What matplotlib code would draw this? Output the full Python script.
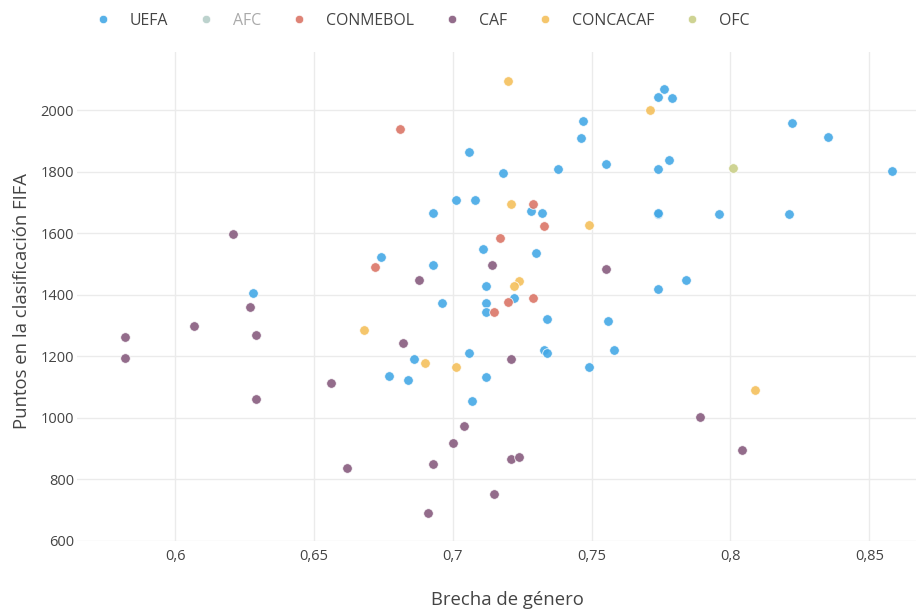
import matplotlib.pyplot as plt
from matplotlib.lines import Line2D
from matplotlib.ticker import FuncFormatter

plt.rcParams['font.family'] = ['Open Sans', 'DejaVu Sans']

# Data (brecha de género, puntos FIFA)
uefa_x = [0.674, 0.628, 0.747, 0.746, 0.706, 0.755, 0.738, 0.718, 0.701, 0.708,
          0.693, 0.728, 0.732, 0.711, 0.730, 0.693, 0.712, 0.696, 0.712, 0.722,
          0.712, 0.734, 0.756, 0.758, 0.733, 0.734, 0.706, 0.686, 0.749, 0.677,
          0.684, 0.712, 0.707, 0.776, 0.774, 0.779, 0.822, 0.835, 0.778, 0.774,
          0.858, 0.774, 0.774, 0.796, 0.821, 0.784, 0.774]
uefa_y = [1525, 1407, 1965, 1910, 1865, 1825, 1809, 1795, 1710, 1710,
          1667, 1673, 1666, 1549, 1538, 1496, 1430, 1374, 1373, 1389,
          1346, 1323, 1314, 1222, 1220, 1210, 1212, 1191, 1166, 1136,
          1123, 1134, 1054, 2069, 2045, 2040, 1959, 1912, 1838, 1809,
          1802, 1662, 1665, 1663, 1662, 1449, 1418]

afc_x = []
afc_y = []

conmebol_x = [0.681, 0.729, 0.733, 0.717, 0.672, 0.720, 0.729, 0.715]
conmebol_y = [1940, 1697, 1623, 1586, 1491, 1377, 1390, 1345]

caf_x = [0.621, 0.627, 0.714, 0.755, 0.688, 0.682, 0.721, 0.704, 0.700, 0.693,
         0.721, 0.724, 0.715, 0.691, 0.607, 0.582, 0.629, 0.582, 0.656, 0.629,
         0.662, 0.789, 0.804]
caf_y = [1597, 1362, 1496, 1484, 1450, 1243, 1191, 975, 920, 849,
         866, 872, 754, 692, 1298, 1264, 1269, 1194, 1115, 1061,
         836, 1004, 895]

concacaf_x = [0.720, 0.721, 0.749, 0.724, 0.722, 0.668, 0.690, 0.701, 0.771, 0.809]
concacaf_y = [2097, 1697, 1628, 1447, 1429, 1286, 1178, 1167, 2002, 1090]

ofc_x = [0.801]
ofc_y = [1812]

names = ['UEFA', 'AFC', 'CONMEBOL', 'CAF', 'CONCACAF', 'OFC']
colors = ['#45A9E6', '#B5CEC8', '#DB7667', '#875C7F', '#F4C05C', '#C9CF87']
series = [(uefa_x, uefa_y), (afc_x, afc_y), (conmebol_x, conmebol_y),
          (caf_x, caf_y), (concacaf_x, concacaf_y), (ofc_x, ofc_y)]
hidden = ['AFC']

fig = plt.figure(figsize=(9.16, 6.09), dpi=100)
ax = fig.add_axes([77 / 916, 68 / 609, 839 / 916, 489 / 609])

for name, col, (xs, ys) in zip(names, colors, series):
    if name in hidden:
        continue
    ax.scatter(xs, ys, s=48, color=col, alpha=0.9, edgecolors='white',
               linewidths=0.6, zorder=3)

ax.set_xlim(0.5647, 0.8668)
ax.set_ylim(600, 2190)
ax.set_xticks([0.6, 0.65, 0.7, 0.75, 0.8, 0.85])
ax.set_yticks([600, 800, 1000, 1200, 1400, 1600, 1800, 2000])
ax.xaxis.set_major_formatter(FuncFormatter(lambda v, p: ('%g' % v).replace('.', ',')))
ax.grid(True, color='#ebebeb', linewidth=1)
ax.set_axisbelow(True)
for s in ax.spines.values():
    s.set_visible(False)
ax.tick_params(length=0, labelsize=10.5, labelcolor='#444444')
ax.tick_params(axis='x', pad=6)
ax.tick_params(axis='y', pad=2)

ax.set_xlabel('Brecha de género', fontsize=13.3, color='#444444')
ax.xaxis.set_label_coords((507 - 77) / 839, -0.102)
ax.set_ylabel('Puntos en la clasificación FIFA', fontsize=13.3, color='#444444')
ax.yaxis.set_label_coords(-0.055, 0.49)

handles = []
for name, col in zip(names, colors):
    handles.append(Line2D([], [], marker='o', linestyle='', markersize=6,
                          markerfacecolor=col, markeredgecolor='white',
                          markeredgewidth=0.5, alpha=0.9))
leg = fig.legend(handles, names, ncol=6, loc='center left',
                 bbox_to_anchor=(87 / 916, 1 - 21 / 609), frameon=False,
                 fontsize=11.4, handlelength=1.0, handletextpad=1.2,
                 columnspacing=1.9, borderpad=0)
for t, name in zip(leg.get_texts(), names):
    t.set_color('#aaaaaa' if name in hidden else '#444444')

fig.savefig('out.png', dpi=100)
